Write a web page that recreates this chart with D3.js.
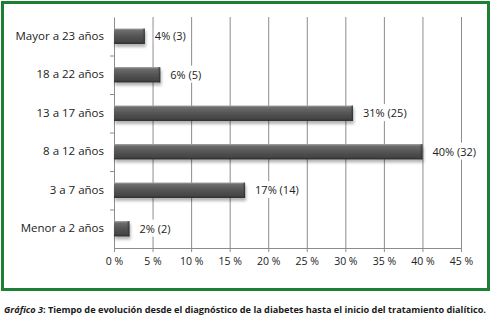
<!DOCTYPE html>
<html>
<head>
<meta charset="utf-8">
<script src="https://cdn.jsdelivr.net/npm/d3@7"></script>
<style>
  body { margin: 0; background: #fff; }
  svg { display: block; }
</style>
</head>
<body>
<svg id="chart"></svg>
<script>
// DATA /////////////////////////////////////////////////////////////
var categories = ["Mayor a 23 años", "18 a 22 años", "13 a 17 años", "8 a 12 años", "3 a 7 años", "Menor a 2 años"];
var percents = [4, 6, 31, 40, 17, 2];
var counts = [3, 5, 25, 32, 14, 2];
var xTicks = [0, 5, 10, 15, 20, 25, 30, 35, 40, 45];

// SETUP ////////////////////////////////////////////////////////////
const W = 491, H = 319;
const PLOT_LEFT = 114, PLOT_RIGHT = 461, PLOT_TOP = 17, PLOT_BOTTOM = 248;
const FONT = "'Open Sans', sans-serif";

var svg = d3.select('#chart').attr('width', W).attr('height', H);

var dataset = categories.map(function (c, i) {
    return { cat: c, pct: percents[i], n: counts[i] };
});

var x = d3.scaleLinear().domain([0, 45]).range([PLOT_LEFT, PLOT_RIGHT]);
var y = d3.scaleBand().domain(categories).range([PLOT_TOP, PLOT_BOTTOM]).paddingInner(0.6).paddingOuter(0.3);
var yBounds = d3.scaleBand().domain(categories).range([PLOT_TOP, PLOT_BOTTOM]);

// gradients for the bevelled bars
var defs = svg.append('defs');
var grad = defs.append('linearGradient').attr('id', 'barGrad').attr('x1', 0).attr('y1', 0).attr('x2', 0).attr('y2', 1);
grad.append('stop').attr('offset', '0%').attr('stop-color', '#a0a0a0');
grad.append('stop').attr('offset', '13%').attr('stop-color', '#6c6c6c');
grad.append('stop').attr('offset', '45%').attr('stop-color', '#575757');
grad.append('stop').attr('offset', '86%').attr('stop-color', '#444444');
grad.append('stop').attr('offset', '100%').attr('stop-color', '#2a2a2a');

var endGrad = defs.append('linearGradient').attr('id', 'endGrad').attr('x1', 0).attr('y1', 0).attr('x2', 1).attr('y2', 0);
endGrad.append('stop').attr('offset', '0%').attr('stop-color', '#555').attr('stop-opacity', 0);
endGrad.append('stop').attr('offset', '100%').attr('stop-color', '#222').attr('stop-opacity', 0.8);

var shadow = defs.append('filter').attr('id', 'shadow').attr('x', '-10%').attr('y', '-30%').attr('width', '130%').attr('height', '190%');
shadow.append('feGaussianBlur').attr('in', 'SourceAlpha').attr('stdDeviation', 1.5);
shadow.append('feOffset').attr('dx', 1).attr('dy', 3).attr('result', 'off');
shadow.append('feComponentTransfer').append('feFuncA').attr('type', 'linear').attr('slope', 0.3);
var merge = shadow.append('feMerge');
merge.append('feMergeNode');
merge.append('feMergeNode').attr('in', 'SourceGraphic');

// green frame
svg.append('rect')
    .attr('x', 2.5).attr('y', 2.5)
    .attr('width', 486).attr('height', 287)
    .attr('fill', 'none')
    .attr('stroke', '#1d7f34')
    .attr('stroke-width', 3);

// gridlines
svg.append('g')
    .selectAll('line')
    .data(xTicks.slice(1))
    .enter()
    .append('line')
    .attr('x1', function (d) { return x(d) + 0.5; })
    .attr('x2', function (d) { return x(d) + 0.5; })
    .attr('y1', PLOT_TOP)
    .attr('y2', PLOT_BOTTOM)
    .attr('stroke', '#8c8c8c')
    .attr('stroke-width', 1);

// bottom axis
var xAxis = svg.append('g')
    .attr('transform', 'translate(0,' + PLOT_BOTTOM + ')')
    .call(d3.axisBottom(x).tickValues(xTicks).tickSize(4).tickPadding(6)
        .tickFormat(function (d) { return d + ' %'; }));
xAxis.select('.domain').attr('stroke', '#8c8c8c');
xAxis.selectAll('.tick line').attr('stroke', '#8c8c8c');
xAxis.selectAll('text')
    .style('font-family', FONT)
    .style('font-size', '10.5px')
    .style('fill', '#222');

// left axis
var yAxis = svg.append('g')
    .attr('transform', 'translate(' + PLOT_LEFT + ',0)')
    .call(d3.axisLeft(y).tickSize(0).tickPadding(10));
yAxis.select('.domain').attr('stroke', '#8c8c8c');
yAxis.selectAll('text')
    .style('font-family', FONT)
    .style('font-size', '11.5px')
    .style('fill', '#222');

// category boundary ticks
svg.append('g')
    .selectAll('line')
    .data(categories.slice(1))
    .enter()
    .append('line')
    .attr('x1', PLOT_LEFT - 4)
    .attr('x2', PLOT_LEFT)
    .attr('y1', function (d) { return yBounds(d) + 0.5; })
    .attr('y2', function (d) { return yBounds(d) + 0.5; })
    .attr('stroke', '#8c8c8c');

// bars
var bars = svg.append('g').selectAll('g')
    .data(dataset)
    .enter()
    .append('g')
    .attr('filter', 'url(#shadow)');

bars.append('rect')
    .attr('x', x(0))
    .attr('y', function (d) { return y(d.cat); })
    .attr('width', function (d) { return x(d.pct) - x(0); })
    .attr('height', y.bandwidth())
    .attr('fill', 'url(#barGrad)');

bars.append('rect')
    .attr('x', function (d) { return x(d.pct) - 3; })
    .attr('y', function (d) { return y(d.cat); })
    .attr('width', 3)
    .attr('height', y.bandwidth())
    .attr('fill', 'url(#endGrad)');

// bar labels with white backing (hides gridlines)
var labels = svg.append('g').selectAll('g')
    .data(dataset)
    .enter()
    .append('g');

var labelText = labels.append('text')
    .attr('x', function (d) { return x(d.pct) + 10; })
    .attr('y', function (d) { return y(d.cat) + y.bandwidth() / 2; })
    .attr('dy', '0.35em')
    .text(function (d) { return d.pct + '% (' + d.n + ')'; })
    .style('font-family', FONT)
    .style('font-size', '11px')
    .style('fill', '#222');

labelText.each(function () {
    var bb = this.getBBox();
    d3.select(this.parentNode).insert('rect', 'text')
        .attr('x', bb.x - 1)
        .attr('y', bb.y - 1)
        .attr('width', bb.width + 2)
        .attr('height', bb.height + 2)
        .attr('fill', '#fff');
});

// caption
var cap = svg.append('text')
    .attr('x', 4)
    .attr('y', 313)
    .style('font-family', FONT)
    .style('font-size', '9px')
    .style('font-weight', '700')
    .style('fill', '#1a1a1a');
cap.append('tspan').style('font-style', 'italic').text('Gráfico 3');
cap.append('tspan').text(': Tiempo de evolución desde el diagnóstico de la diabetes hasta el inicio del tratamiento dialítico.');
cap.attr('textLength', 482).attr('lengthAdjust', 'spacingAndGlyphs');
</script>
</body>
</html>
